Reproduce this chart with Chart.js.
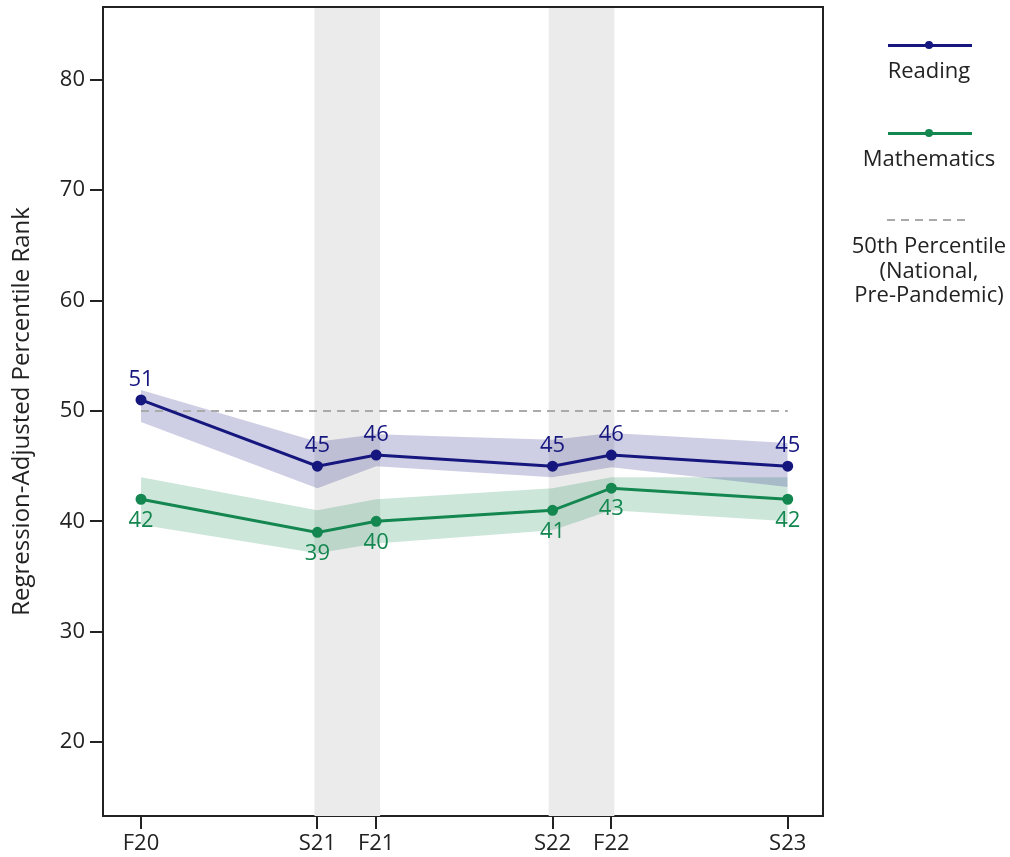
<!DOCTYPE html>
<html>
<head>
<meta charset="utf-8">
<script src="https://cdn.jsdelivr.net/npm/chart.js@4/dist/chart.umd.min.js"></script>
<style>
  body { margin: 0; background: #fff; }
  #wrap { position: relative; width: 1010px; height: 857px; font-family: "Open Sans", sans-serif; color: #222; }
  #chart { position: absolute; left: 0; top: 0; }
  .lg-line { position: absolute; height: 3px; }
  .lg-dot { position: absolute; width: 8px; height: 8px; border-radius: 50%; }
  .lg-dash { position: absolute; height: 2px;
    background: repeating-linear-gradient(to right, #aaaaaa 0 8px, transparent 8px 14px); }
  .lg-text { position: absolute; width: 180px; text-align: center; font-size: 22px; line-height: 24.5px; }
</style>
</head>
<body>
<div id="wrap">
  <canvas id="chart" width="1010" height="857"></canvas>

  <div class="lg-line" style="left:888px; top:44px; width:84px; background:#16167f;"></div>
  <div class="lg-dot" style="left:925px; top:41px; background:#16167f;"></div>
  <div class="lg-text" style="left:839px; top:57px;">Reading</div>

  <div class="lg-line" style="left:888px; top:132px; width:84px; background:#13874f;"></div>
  <div class="lg-dot" style="left:925px; top:129px; background:#13874f;"></div>
  <div class="lg-text" style="left:839px; top:145px;">Mathematics</div>

  <div class="lg-dash" style="left:887px; top:219px; width:84px;"></div>
  <div class="lg-text" style="left:839px; top:232px;">50th Percentile<br>(National,<br>Pre-Pandemic)</div>
</div>

<script>
// test windows, placed in months after fall 2020
var periods = ["F20", "S21", "F21", "S22", "F22", "S23"];
var months = [0, 9, 12, 21, 24, 33];

var reading = [51, 45, 46, 45, 46, 45];
var readingLow = [49.0, 43.0, 45.0, 44.0, 44.9, 43.1];
var readingHigh = [51.9, 47.2, 47.9, 47.4, 48.0, 47.1];

var math = [42, 39, 40, 41, 43, 42];
var mathLow = [39.7, 37.1, 38.0, 39.2, 41.0, 40.0];
var mathHigh = [44.0, 41.0, 42.0, 43.0, 44.0, 44.0];

var benchmark = 50;
var yTicks = [20, 30, 40, 50, 60, 70, 80];

// summer gaps shaded in grey
var summerBands = [[8.85, 12.2], [20.8, 24.15]];

var navy = "#16167f";
var green = "#13874f";
var ink = "#222222";

function pts(values) {
    return values.map(function (v, i) { return { x: months[i], y: v }; });
}

var shadePlugin = {
    id: "shade",
    beforeDatasetsDraw: function (chart) {
        var ctx = chart.ctx, area = chart.chartArea, x = chart.scales.x;
        ctx.save();
        ctx.fillStyle = "#ebebeb";
        summerBands.forEach(function (b) {
            var x0 = x.getPixelForValue(b[0]);
            var x1 = x.getPixelForValue(b[1]);
            ctx.fillRect(x0, area.top, x1 - x0, area.bottom - area.top);
        });
        ctx.restore();
    },
    afterDatasetsDraw: function (chart) {
        var ctx = chart.ctx;
        ctx.save();
        ctx.font = "22px 'Open Sans'";
        ctx.textAlign = "center";
        ctx.textBaseline = "middle";
        chart.getDatasetMeta(0).data.forEach(function (p, i) {
            ctx.fillStyle = navy;
            ctx.fillText(reading[i], p.x, p.y - 20);
        });
        chart.getDatasetMeta(1).data.forEach(function (p, i) {
            ctx.fillStyle = green;
            ctx.fillText(math[i], p.x, p.y + 21);
        });
        ctx.restore();
    },
    afterDraw: function (chart) {
        var ctx = chart.ctx, a = chart.chartArea;
        ctx.save();
        ctx.strokeStyle = ink;
        ctx.lineWidth = 2;
        ctx.beginPath();
        ctx.moveTo(a.left, a.top);
        ctx.lineTo(a.right, a.top);
        ctx.lineTo(a.right, a.bottom);
        ctx.stroke();
        ctx.restore();
    }
};

new Chart(document.getElementById("chart"), {
    type: "line",
    data: {
        datasets: [
            {
                label: "Reading",
                data: pts(reading),
                borderColor: navy,
                backgroundColor: navy,
                borderWidth: 3,
                pointRadius: 4,
                fill: false
            },
            {
                label: "Mathematics",
                data: pts(math),
                borderColor: green,
                backgroundColor: green,
                borderWidth: 3,
                pointRadius: 4,
                fill: false
            },
            {
                label: "50th Percentile",
                data: [{ x: months[0], y: benchmark }, { x: months[months.length - 1], y: benchmark }],
                borderColor: "#aaaaaa",
                borderWidth: 2,
                borderDash: [8, 6],
                pointRadius: 0,
                fill: false
            },
            {
                label: "readingHigh",
                data: pts(readingHigh),
                borderWidth: 0,
                pointRadius: 0,
                backgroundColor: "rgba(22,22,127,0.21)",
                fill: "+1"
            },
            {
                label: "readingLow",
                data: pts(readingLow),
                borderWidth: 0,
                pointRadius: 0,
                fill: false
            },
            {
                label: "mathHigh",
                data: pts(mathHigh),
                borderWidth: 0,
                pointRadius: 0,
                backgroundColor: "rgba(19,135,79,0.21)",
                fill: "+1"
            },
            {
                label: "mathLow",
                data: pts(mathLow),
                borderWidth: 0,
                pointRadius: 0,
                fill: false
            }
        ]
    },
    options: {
        responsive: false,
        animation: false,
        layout: { padding: { top: 7, right: 187, left: 0, bottom: 0 } },
        plugins: {
            legend: { display: false },
            tooltip: { enabled: false }
        },
        scales: {
            x: {
                type: "linear",
                min: -1.94,
                max: 34.8,
                afterBuildTicks: function (scale) {
                    scale.ticks = months.map(function (m) { return { value: m }; });
                },
                afterFit: function (scale) {
                    scale.height = 41;
                    scale.paddingLeft = 0;
                    scale.paddingRight = 0;
                },
                ticks: {
                    color: ink,
                    font: { family: "Open Sans", size: 22 },
                    padding: 2,
                    maxRotation: 0,
                    autoSkip: false,
                    callback: function (v) { return periods[months.indexOf(v)]; }
                },
                grid: { drawOnChartArea: false, drawTicks: true, tickLength: 13, color: ink, lineWidth: 2 },
                border: { display: true, color: ink, width: 2 }
            },
            y: {
                min: 13.3,
                max: 86.6,
                afterBuildTicks: function (scale) {
                    scale.ticks = yTicks.map(function (v) { return { value: v }; });
                },
                afterFit: function (scale) {
                    scale.width = 103;
                    scale.paddingTop = 0;
                    scale.paddingBottom = 0;
                },
                ticks: {
                    color: ink,
                    font: { family: "Open Sans", size: 22 },
                    padding: 5
                },
                grid: { drawOnChartArea: false, drawTicks: true, tickLength: 13, color: ink, lineWidth: 2 },
                border: { display: true, color: ink, width: 2 },
                title: {
                    display: true,
                    text: "Regression-Adjusted Percentile Rank",
                    color: ink,
                    font: { family: "Open Sans", size: 24 },
                    padding: { top: 8, bottom: 0 }
                }
            }
        }
    },
    plugins: [shadePlugin]
});
</script>
</body>
</html>
